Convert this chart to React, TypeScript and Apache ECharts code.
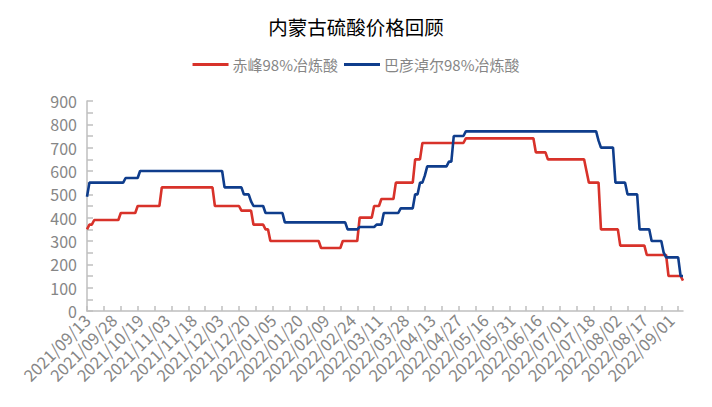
import React, { useEffect, useRef } from "react";
import * as echarts from "echarts";

const TITLE = "内蒙古硫酸价格回顾";
const SERIES_NAMES = ["赤峰98%冶炼酸", "巴彦淖尔98%冶炼酸"];
const SERIES_COLORS = ["#d8322a", "#0f3d8c"];

const categories: string[] = [
  "2021/09/13","2021/09/14","2021/09/15","2021/09/16","2021/09/17","2021/09/18","2021/09/22","2021/09/23","2021/09/24","2021/09/26","2021/09/27","2021/09/28","2021/09/29","2021/09/30",
  "2021/10/08","2021/10/09","2021/10/11","2021/10/12","2021/10/13","2021/10/14","2021/10/15","2021/10/18","2021/10/19","2021/10/20","2021/10/21","2021/10/22","2021/10/25","2021/10/26","2021/10/27","2021/10/28","2021/10/29",
  "2021/11/01","2021/11/02","2021/11/03","2021/11/04","2021/11/05","2021/11/08","2021/11/09","2021/11/10","2021/11/11","2021/11/12","2021/11/15","2021/11/16","2021/11/17","2021/11/18","2021/11/19","2021/11/22","2021/11/23","2021/11/24","2021/11/25","2021/11/26","2021/11/29","2021/11/30",
  "2021/12/01","2021/12/02","2021/12/03","2021/12/06","2021/12/07","2021/12/08","2021/12/09","2021/12/10","2021/12/13","2021/12/14","2021/12/15","2021/12/16","2021/12/17","2021/12/20","2021/12/21","2021/12/22","2021/12/23","2021/12/24","2021/12/27","2021/12/28","2021/12/29","2021/12/30","2021/12/31",
  "2022/01/04","2022/01/05","2022/01/06","2022/01/07","2022/01/10","2022/01/11","2022/01/12","2022/01/13","2022/01/14","2022/01/17","2022/01/18","2022/01/19","2022/01/20","2022/01/21","2022/01/24","2022/01/25","2022/01/26","2022/01/27","2022/01/28","2022/01/29","2022/01/30",
  "2022/02/07","2022/02/08","2022/02/09","2022/02/10","2022/02/11","2022/02/14","2022/02/15","2022/02/16","2022/02/17","2022/02/18","2022/02/21","2022/02/22","2022/02/23","2022/02/24","2022/02/25","2022/02/28",
  "2022/03/01","2022/03/02","2022/03/03","2022/03/04","2022/03/07","2022/03/08","2022/03/09","2022/03/10","2022/03/11","2022/03/14","2022/03/15","2022/03/16","2022/03/17","2022/03/18","2022/03/21","2022/03/22","2022/03/23","2022/03/24","2022/03/25","2022/03/28","2022/03/29","2022/03/30","2022/03/31",
  "2022/04/01","2022/04/02","2022/04/06","2022/04/07","2022/04/08","2022/04/11","2022/04/12","2022/04/13","2022/04/14","2022/04/15","2022/04/18","2022/04/19","2022/04/20","2022/04/21","2022/04/22","2022/04/24","2022/04/25","2022/04/26","2022/04/27","2022/04/28","2022/04/29",
  "2022/05/05","2022/05/06","2022/05/07","2022/05/09","2022/05/10","2022/05/11","2022/05/12","2022/05/13","2022/05/16","2022/05/17","2022/05/18","2022/05/19","2022/05/20","2022/05/23","2022/05/24","2022/05/25","2022/05/26","2022/05/27","2022/05/30","2022/05/31",
  "2022/06/01","2022/06/02","2022/06/06","2022/06/07","2022/06/08","2022/06/09","2022/06/10","2022/06/13","2022/06/14","2022/06/15","2022/06/16","2022/06/17","2022/06/20","2022/06/21","2022/06/22","2022/06/23","2022/06/24","2022/06/27","2022/06/28","2022/06/29","2022/06/30",
  "2022/07/01","2022/07/04","2022/07/05","2022/07/06","2022/07/07","2022/07/08","2022/07/11","2022/07/12","2022/07/13","2022/07/14","2022/07/15","2022/07/18","2022/07/19","2022/07/20","2022/07/21","2022/07/22","2022/07/25","2022/07/26","2022/07/27","2022/07/28","2022/07/29",
  "2022/08/01","2022/08/02","2022/08/03","2022/08/04","2022/08/05","2022/08/08","2022/08/09","2022/08/10","2022/08/11","2022/08/12","2022/08/15","2022/08/16","2022/08/17","2022/08/18","2022/08/19","2022/08/22","2022/08/23","2022/08/24","2022/08/25","2022/08/26","2022/08/29","2022/08/30","2022/08/31",
  "2022/09/01","2022/09/02","2022/09/05","2022/09/06","2022/09/07","2022/09/08",
];

const chifengAcid: number[] = [
  350,370,370,390,390,390,390,390,390,390,
  390,390,390,390,420,420,420,420,420,420,
  420,450,450,450,450,450,450,450,450,450,
  450,530,530,530,530,530,530,530,530,530,
  530,530,530,530,530,530,530,530,530,530,
  530,530,530,450,450,450,450,450,450,450,
  450,450,450,450,430,430,430,430,430,370,
  370,370,370,370,350,350,300,300,300,300,
  300,300,300,300,300,300,300,300,300,300,
  300,300,300,300,300,300,300,270,270,270,
  270,270,270,270,270,270,300,300,300,300,
  300,300,300,400,400,400,400,400,400,450,
  450,450,480,480,480,480,480,480,550,550,
  550,550,550,550,550,550,650,650,650,720,
  720,720,720,720,720,720,720,720,720,720,
  720,720,720,720,720,720,720,740,740,740,
  740,740,740,740,740,740,740,740,740,740,
  740,740,740,740,740,740,740,740,740,740,
  740,740,740,740,740,740,680,680,680,680,
  680,650,650,650,650,650,650,650,650,650,
  650,650,650,650,650,650,650,600,550,550,
  550,550,550,350,350,350,350,350,350,350,
  350,280,280,280,280,280,280,280,280,280,
  280,280,240,240,240,240,240,240,240,240,
  240,150,150,150,150,150,150,130,
];

const bayannurAcid: number[] = [
  490,550,550,550,550,550,550,550,550,550,
  550,550,550,550,550,550,570,570,570,570,
  570,570,600,600,600,600,600,600,600,600,
  600,600,600,600,600,600,600,600,600,600,
  600,600,600,600,600,600,600,600,600,600,
  600,600,600,600,600,600,600,530,530,530,
  530,530,530,530,530,500,500,500,470,450,
  450,450,450,450,420,420,420,420,420,420,
  420,420,380,380,380,380,380,380,380,380,
  380,380,380,380,380,380,380,380,380,380,
  380,380,380,380,380,380,380,380,350,350,
  350,350,350,360,360,360,360,360,360,360,
  370,370,370,420,420,420,420,420,420,420,
  440,440,440,440,440,440,500,500,550,550,
  580,620,620,620,620,620,620,620,620,620,
  640,640,750,750,750,750,750,770,770,770,
  770,770,770,770,770,770,770,770,770,770,
  770,770,770,770,770,770,770,770,770,770,
  770,770,770,770,770,770,770,770,770,770,
  770,770,770,770,770,770,770,770,770,770,
  770,770,770,770,770,770,770,770,770,770,
  770,770,730,700,700,700,700,700,700,550,
  550,550,550,550,500,500,500,500,500,350,
  350,350,350,350,300,300,300,300,300,250,
  230,230,230,230,230,230,150,150,
];

const Y_MIN = 0;
const Y_MAX = 900;
const Y_INTERVAL = 100;

const FONT = "'Noto Sans CJK SC', 'Noto Sans', sans-serif";
const AXIS_GRAY = "#bfbfbf";
const TEXT_GRAY = "#868686";

export default function App() {
  const ref = useRef<HTMLDivElement>(null);

  useEffect(() => {
    if (!ref.current) return;
    const chart = echarts.init(ref.current, undefined, { renderer: "svg" });
    const seriesData = [chifengAcid, bayannurAcid];
    chart.setOption({
      animation: false,
      backgroundColor: "#ffffff",
      textStyle: { fontFamily: FONT },
      title: {
        text: TITLE,
        left: "center",
        top: 12,
        textStyle: { fontSize: 19.5, fontWeight: "normal", color: "#000000", fontFamily: FONT },
      },
      legend: {
        top: 52,
        left: "center",
        icon: "rect",
        itemWidth: 36,
        itemHeight: 3,
        itemGap: 6,
        textStyle: { fontSize: 15, color: TEXT_GRAY, fontFamily: FONT, padding: [0, 0, 0, -1] },
        data: SERIES_NAMES,
      },
      grid: { left: 87, right: 29, top: 101, bottom: 96, containLabel: false },
      xAxis: {
        type: "category",
        data: categories,
        boundaryGap: false,
        axisLine: { show: true, lineStyle: { color: AXIS_GRAY, width: 1.5 } },
        axisTick: { show: true, inside: true, interval: 6, length: 5, lineStyle: { color: AXIS_GRAY, width: 1.5 } },
        axisLabel: {
          interval: 10,
          rotate: 45,
          margin: 6,
          fontSize: 16.5,
          color: TEXT_GRAY,
          fontFamily: FONT,
        },
        splitLine: { show: false },
      },
      yAxis: {
        type: "value",
        min: Y_MIN,
        max: Y_MAX,
        interval: Y_INTERVAL,
        axisLine: { show: true, lineStyle: { color: AXIS_GRAY, width: 1.5 } },
        axisTick: { show: true, inside: true, length: 6, lineStyle: { color: AXIS_GRAY, width: 1.5 } },
        minorTick: { show: true, splitNumber: 2, length: 6, lineStyle: { color: AXIS_GRAY, width: 1.5 } },
        axisLabel: { fontSize: 16, color: TEXT_GRAY, margin: 10, fontFamily: FONT },
        splitLine: { show: false },
      },
      series: SERIES_NAMES.map((name, i) => ({
        name,
        type: "line",
        data: seriesData[i],
        showSymbol: false,
        symbol: "none",
        color: SERIES_COLORS[i],
        lineStyle: { color: SERIES_COLORS[i], width: 2.6 },
      })),
    });
    return () => chart.dispose();
  }, []);

  return <div ref={ref} style={{ width: 712, height: 407, margin: -8 }} />;
}
